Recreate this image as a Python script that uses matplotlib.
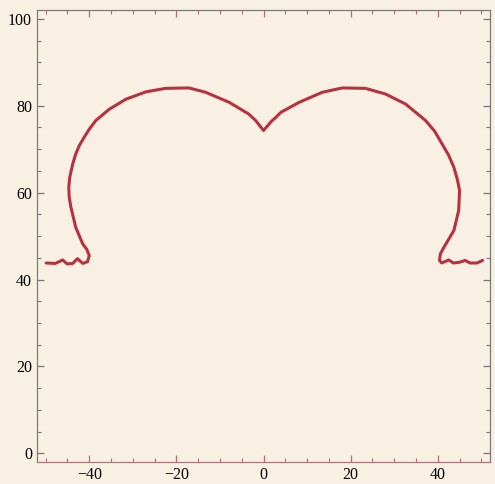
import numpy as np
import matplotlib.pyplot as plt
from matplotlib.ticker import MultipleLocator

# traced outline, left to right
x = [-49.9, -47.8, -46.1, -45.1, -43.8, -42.7, -41.5, -40.4, -40.0, -40.6,
     -41.5, -43.1, -44.2, -44.6, -44.7, -44.5, -43.8, -43.1, -42.3, -41.2,
     -40.0, -38.5, -35.4, -31.6, -27.0, -22.5, -17.1, -13.3, -7.9, -3.4,
     -1.8, 0.0,
     1.8, 2.8, 4.0, 8.2, 13.5, 18.1, 23.4, 28.0, 32.6, 37.2,
     39.3, 41.0, 42.5, 43.7, 44.5, 45.0, 44.9, 44.8, 43.7, 41.4,
     40.6, 40.4, 40.9, 42.5, 43.6, 45.1, 46.3, 47.4, 49.0, 50.3]
y = [43.8, 43.7, 44.5, 43.6, 43.7, 44.8, 43.7, 44.1, 45.5, 47.0,
     48.2, 52.0, 56.6, 58.9, 61.2, 63.4, 66.6, 68.9, 70.8, 72.7,
     74.6, 76.6, 79.2, 81.5, 83.2, 84.0, 84.1, 83.1, 80.8, 78.1,
     76.6, 74.3,
     76.4, 77.3, 78.5, 80.8, 83.1, 84.1, 84.0, 82.7, 80.4, 76.6,
     74.1, 71.2, 68.6, 65.8, 63.0, 60.5, 58.2, 55.9, 51.3, 47.4,
     45.9, 44.4, 43.8, 44.5, 43.8, 44.0, 44.4, 43.8, 43.8, 44.4]

bg = '#f8f0e3'
plt.rcParams['font.family'] = ['Liberation Serif', 'DejaVu Serif']

fig = plt.figure(figsize=(4.95, 4.84), dpi=100, facecolor=bg)
ax = fig.add_axes([0.0747, 0.0455, 0.9153, 0.9335])
ax.set_facecolor(bg)

ax.plot(x, y, color='#b8313f', lw=2.2, solid_joinstyle='round',
        solid_capstyle='round')

ax.set_xlim(-52, 52)
ax.set_ylim(-2, 102)
ax.set_xticks([-40, -20, 0, 20, 40])
ax.set_yticks([0, 20, 40, 60, 80, 100])
ax.xaxis.set_minor_locator(MultipleLocator(5))
ax.yaxis.set_minor_locator(MultipleLocator(5))

ax.tick_params(which='both', direction='in', top=True, right=True,
               color='#777777', labelsize=11.5)
ax.tick_params(which='major', length=5, width=0.9)
ax.tick_params(which='minor', length=3, width=0.8)
ax.tick_params(axis='x', which='both', color='#b56a78', pad=3.5)
ax.tick_params(axis='y', pad=3.5)

for s in ax.spines.values():
    s.set_color('#7a7a7a')
    s.set_linewidth(0.9)
ax.spines['bottom'].set_color('#a87880')

plt.savefig('out.png', dpi=100, facecolor=bg)
